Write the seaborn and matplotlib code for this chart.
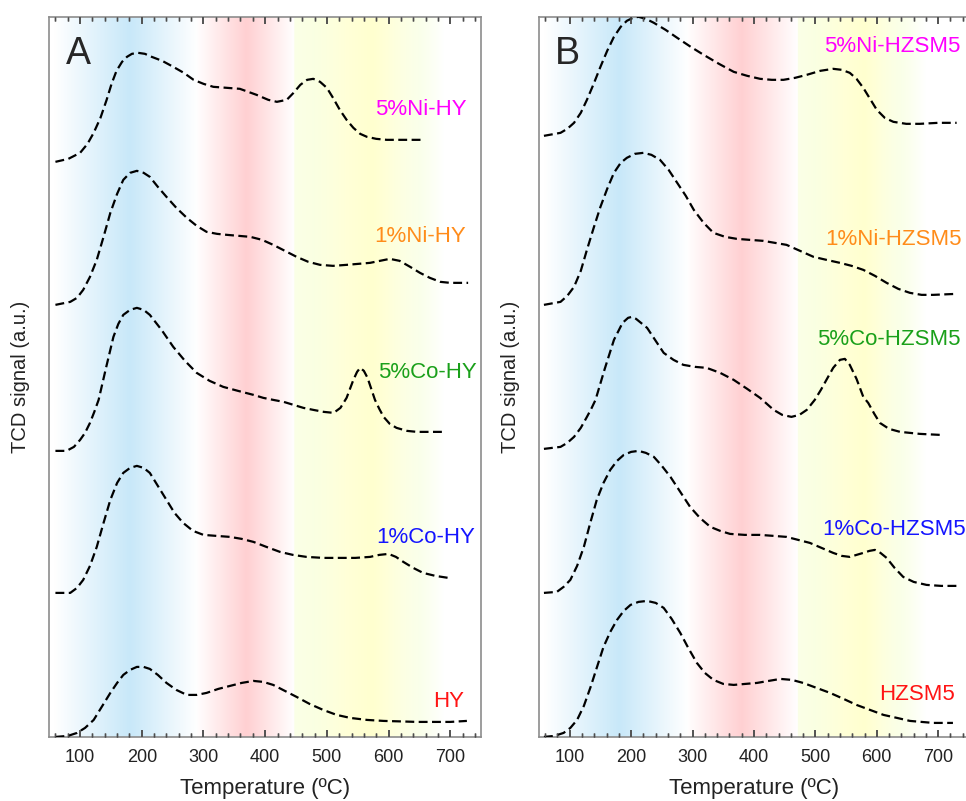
import numpy as np
import pandas as pd
import matplotlib
matplotlib.use("Agg")
import matplotlib.pyplot as plt
import seaborn as sns
from matplotlib.ticker import MultipleLocator, FixedLocator
from matplotlib.colors import to_rgb

# ---- panel A: HY series (temperature in C, TCD signal in a.u., already stacked)
a_ni5_t = [60, 81, 100, 112, 122, 133, 143, 151, 159, 168, 176, 184, 194, 205, 216, 233, 251, 268, 284, 300, 316, 338, 359, 386, 405, 419, 435, 446, 457, 468, 478, 489, 500, 510, 521, 532, 543, 554, 565, 580, 597, 625, 656]
a_ni5_v = [5.75, 5.78, 5.84, 5.93, 6.04, 6.19, 6.37, 6.53, 6.66, 6.75, 6.80, 6.83, 6.84, 6.83, 6.80, 6.76, 6.70, 6.64, 6.57, 6.53, 6.50, 6.49, 6.48, 6.42, 6.37, 6.35, 6.37, 6.44, 6.52, 6.57, 6.58, 6.55, 6.49, 6.39, 6.27, 6.17, 6.09, 6.03, 6.00, 5.98, 5.97, 5.97, 5.97]
a_ni1_t = [60, 84, 95, 105, 116, 127, 138, 149, 160, 170, 181, 192, 203, 213, 226, 240, 256, 273, 289, 305, 322, 338, 357, 376, 395, 413, 432, 451, 470, 489, 510, 532, 551, 570, 586, 602, 618, 635, 651, 667, 684, 700, 729]
a_ni1_v = [4.32, 4.35, 4.39, 4.47, 4.60, 4.77, 5.00, 5.24, 5.43, 5.57, 5.64, 5.66, 5.64, 5.60, 5.50, 5.40, 5.29, 5.19, 5.11, 5.05, 5.03, 5.02, 5.01, 5.00, 4.97, 4.92, 4.86, 4.80, 4.75, 4.72, 4.71, 4.72, 4.73, 4.74, 4.76, 4.78, 4.76, 4.70, 4.64, 4.59, 4.55, 4.54, 4.54]
a_co5_t = [60, 78, 90, 100, 108, 116, 123, 130, 142, 154, 162, 170, 181, 192, 203, 213, 232, 251, 270, 289, 310, 332, 356, 381, 397, 413, 430, 446, 462, 478, 495, 511, 522, 532, 543, 549, 554, 560, 566, 572, 578, 585, 592, 602, 613, 630, 646, 689]
a_co5_v = [2.86, 2.86, 2.90, 2.97, 3.04, 3.14, 3.25, 3.37, 3.69, 4.00, 4.13, 4.22, 4.27, 4.29, 4.27, 4.22, 4.07, 3.90, 3.76, 3.64, 3.56, 3.50, 3.46, 3.42, 3.39, 3.37, 3.35, 3.32, 3.29, 3.27, 3.25, 3.24, 3.29, 3.39, 3.57, 3.65, 3.69, 3.66, 3.59, 3.48, 3.37, 3.28, 3.20, 3.13, 3.09, 3.06, 3.05, 3.05]
a_co1_t = [60, 84, 95, 105, 116, 127, 138, 149, 160, 170, 181, 192, 203, 213, 226, 240, 253, 267, 283, 300, 321, 343, 362, 381, 402, 424, 445, 467, 494, 521, 546, 570, 585, 600, 612, 624, 640, 656, 676, 697]
a_co1_v = [1.44, 1.44, 1.49, 1.57, 1.71, 1.90, 2.14, 2.37, 2.54, 2.64, 2.69, 2.71, 2.69, 2.64, 2.51, 2.37, 2.24, 2.14, 2.06, 2.02, 2.01, 2.00, 1.98, 1.95, 1.90, 1.85, 1.82, 1.80, 1.79, 1.79, 1.79, 1.80, 1.82, 1.83, 1.80, 1.75, 1.69, 1.64, 1.61, 1.59]
a_hy_t = [60, 80, 95, 108, 122, 135, 149, 160, 170, 181, 192, 203, 213, 226, 240, 256, 273, 289, 305, 324, 343, 362, 381, 397, 413, 432, 451, 472, 494, 516, 538, 565, 592, 620, 646, 673, 700, 727]
a_hy_v = [0.00, 0.01, 0.04, 0.09, 0.17, 0.30, 0.44, 0.54, 0.62, 0.67, 0.70, 0.70, 0.68, 0.62, 0.54, 0.47, 0.42, 0.42, 0.44, 0.48, 0.51, 0.54, 0.56, 0.55, 0.52, 0.46, 0.40, 0.33, 0.27, 0.22, 0.19, 0.17, 0.16, 0.155, 0.15, 0.15, 0.15, 0.16]

# ---- panel B: HZSM5 series
b_ni5_t = [58, 85, 96, 107, 118, 128, 139, 150, 161, 172, 183, 193, 203, 212, 224, 237, 256, 275, 297, 318, 343, 367, 389, 410, 429, 448, 467, 486, 508, 529, 543, 556, 567, 578, 589, 600, 613, 627, 648, 670, 700, 730]
b_ni5_v = [6.01, 6.04, 6.08, 6.14, 6.24, 6.37, 6.53, 6.70, 6.86, 7.00, 7.10, 7.16, 7.19, 7.20, 7.18, 7.14, 7.07, 6.99, 6.90, 6.82, 6.73, 6.65, 6.61, 6.58, 6.57, 6.57, 6.59, 6.62, 6.66, 6.68, 6.67, 6.64, 6.58, 6.49, 6.38, 6.27, 6.19, 6.15, 6.13, 6.13, 6.14, 6.14]
b_ni1_t = [58, 85, 96, 107, 118, 128, 139, 150, 161, 172, 183, 193, 206, 220, 233, 247, 261, 275, 289, 302, 318, 334, 353, 372, 393, 415, 434, 453, 475, 497, 518, 540, 559, 578, 597, 616, 635, 654, 673, 692, 730]
b_ni1_v = [4.32, 4.35, 4.41, 4.50, 4.66, 4.87, 5.09, 5.30, 5.48, 5.64, 5.74, 5.79, 5.83, 5.84, 5.82, 5.77, 5.67, 5.54, 5.41, 5.27, 5.14, 5.04, 5.00, 4.98, 4.97, 4.96, 4.94, 4.92, 4.86, 4.80, 4.77, 4.74, 4.71, 4.67, 4.61, 4.54, 4.48, 4.44, 4.42, 4.42, 4.43]
b_co5_t = [58, 85, 96, 107, 118, 128, 135, 142, 157, 172, 186, 195, 201, 208, 216, 226, 240, 253, 269, 285, 304, 323, 345, 367, 389, 410, 421, 432, 446, 461, 474, 486, 499, 509, 518, 529, 540, 548, 556, 567, 578, 586, 596, 605, 620, 638, 670, 703]
b_co5_v = [2.88, 2.90, 2.94, 3.00, 3.09, 3.20, 3.28, 3.37, 3.68, 3.97, 4.14, 4.19, 4.20, 4.18, 4.14, 4.09, 3.96, 3.84, 3.77, 3.72, 3.70, 3.69, 3.64, 3.57, 3.48, 3.39, 3.33, 3.27, 3.22, 3.20, 3.22, 3.27, 3.37, 3.47, 3.57, 3.69, 3.77, 3.78, 3.72, 3.58, 3.40, 3.34, 3.23, 3.14, 3.08, 3.05, 3.03, 3.02]
b_co1_t = [58, 79, 90, 101, 112, 123, 133, 144, 155, 166, 177, 188, 200, 212, 224, 237, 250, 264, 280, 296, 312, 329, 345, 361, 385, 410, 432, 453, 472, 491, 510, 529, 543, 556, 567, 578, 588, 597, 606, 616, 629, 643, 660, 681, 705, 730]
b_co1_v = [1.44, 1.45, 1.50, 1.57, 1.71, 1.90, 2.13, 2.37, 2.54, 2.67, 2.76, 2.82, 2.85, 2.86, 2.84, 2.80, 2.71, 2.60, 2.45, 2.30, 2.19, 2.10, 2.06, 2.03, 2.02, 2.02, 2.01, 2.00, 1.97, 1.94, 1.89, 1.84, 1.81, 1.80, 1.82, 1.84, 1.86, 1.87, 1.84, 1.79, 1.69, 1.60, 1.55, 1.52, 1.51, 1.51]
b_hz_t = [58, 75, 90, 101, 112, 123, 134, 145, 155, 166, 177, 188, 199, 212, 226, 240, 253, 266, 280, 293, 307, 320, 334, 350, 367, 386, 405, 424, 443, 462, 480, 502, 524, 546, 567, 589, 611, 633, 654, 673, 692, 724]
b_hz_v = [0.00, 0.01, 0.04, 0.09, 0.17, 0.31, 0.50, 0.71, 0.90, 1.05, 1.17, 1.26, 1.32, 1.35, 1.36, 1.34, 1.29, 1.18, 1.04, 0.89, 0.74, 0.64, 0.57, 0.53, 0.52, 0.53, 0.54, 0.56, 0.58, 0.57, 0.54, 0.49, 0.44, 0.38, 0.32, 0.27, 0.22, 0.19, 0.16, 0.15, 0.14, 0.14]

a_names = ["5%Ni-HY", "1%Ni-HY", "5%Co-HY", "1%Co-HY", "HY"]
b_names = ["5%Ni-HZSM5", "1%Ni-HZSM5", "5%Co-HZSM5", "1%Co-HZSM5", "HZSM5"]
label_colors = ["#FF00FF", "#FF8C1A", "#1AA01A", "#1414FF", "#FF1414"]
major_ticks = [100, 200, 300, 400, 500, 600, 700]

# background bands: (knot temperatures, knot weights, colour)
a_bands = [
    ([58, 181, 290], [0, 1, 0], "#C8E8F9"),
    ([288, 370, 448], [0, 1, 0], "#FFD0D2"),
    ([447, 448, 575, 690], [0, 0.45, 1, 0], "#FFFFCF"),
    ([447, 448, 480, 530], [0, 0.25, 0.3, 0], "#EEFFE0"),
    ([600, 650, 690], [0, 0.3, 0], "#EEFFE0"),
]
b_bands = [
    ([58, 181, 292], [0, 1, 0], "#C8E8F9"),
    ([290, 380, 472], [0, 1, 0], "#FFD0D2"),
    ([471, 472, 580, 680], [0, 0.45, 1, 0], "#FFFFCF"),
    ([471, 472, 500, 545], [0, 0.25, 0.3, 0], "#EEFFE0"),
    ([600, 640, 680], [0, 0.3, 0], "#EEFFE0"),
]

XMIN, XMAX, YMAX = 50, 750, 7.2

sns.set_theme(style="ticks")
plt.rcParams["font.family"] = ["Liberation Sans", "DejaVu Sans"]
plt.rcParams.update({
    "xtick.bottom": True, "xtick.top": True, "xtick.direction": "in",
    "xtick.major.size": 5, "xtick.minor.size": 3,
    "xtick.major.width": 1.1, "xtick.minor.width": 1.0,
    "xtick.color": "#4D4D4D", "xtick.labelcolor": "#222222",
    "xtick.labelsize": 13, "xtick.major.pad": 9,
    "ytick.left": False, "ytick.right": False,
    "axes.axisbelow": False,
})


def draw_background(ax, bands):
    grid = np.arange(XMIN, XMAX + 1)
    img = np.ones((1, len(grid), 3))
    for knots, weights, color in bands:
        w = np.interp(grid, knots, weights, left=0, right=0)[None, :, None]
        img = img * (1 - w) + np.array(to_rgb(color))[None, None, :] * w
    ax.imshow(img, extent=[XMIN, XMAX, 0, YMAX], aspect="auto", zorder=0,
              interpolation="bilinear")


def add_tick_overlay(fig, ax):
    # transparent axes on top of the panel that only carries the inward ticks
    ov = fig.add_axes(ax.get_position(), sharex=ax)
    ov.set_zorder(ax.get_zorder() + 1)
    ov.patch.set_visible(False)
    ov.set_yticks([])
    for sp in ov.spines.values():
        sp.set_visible(False)
    ov.xaxis.set_major_locator(FixedLocator(major_ticks))
    ov.xaxis.set_minor_locator(MultipleLocator(20))
    ov.tick_params(axis="x", which="both", direction="in", top=True,
                   bottom=True, labelbottom=False, labeltop=False,
                   color="#4D4D4D")
    ov.tick_params(axis="x", which="major", length=5, width=1.1)
    ov.tick_params(axis="x", which="minor", length=3, width=1.0)
    return ov


def draw_panel(ax, curves, names, bands, letter, label_pos):
    draw_background(ax, bands)
    for (t, v), name in zip(curves, names):
        df = pd.DataFrame({"T": t, "signal": v})
        sns.lineplot(data=df, x="T", y="signal", ax=ax, color="black",
                     linestyle=(0, (4, 2)), linewidth=1.6, sort=False, zorder=3)
    for name, color, (lx, ly) in zip(names, label_colors, label_pos):
        ax.text(lx, ly, name, color=color, fontsize=16, ha="right",
                va="center", zorder=4)
    ax.text(0.038, 0.974, letter, transform=ax.transAxes, fontsize=27,
            ha="left", va="top", zorder=4)
    ax.set_xlim(XMIN, XMAX)
    ax.set_ylim(0, YMAX)
    ax.set_yticks([])
    ax.xaxis.set_major_locator(FixedLocator(major_ticks))
    ax.xaxis.set_minor_locator(MultipleLocator(20))
    for sp in ax.spines.values():
        sp.set_visible(True)
        sp.set_color("#8C8C8C")
        sp.set_linewidth(1.2)
    ax.set_xlabel("Temperature (ºC)", fontsize=16, color="#222222", labelpad=8)
    ax.set_ylabel("TCD signal (a.u.)", fontsize=14.5, color="#222222", labelpad=14)
    ax.tick_params(axis="x", which="both", direction="in", top=True,
                   bottom=True, color="#4D4D4D")
    ax.tick_params(axis="x", which="major", length=5, width=1.1)
    ax.tick_params(axis="x", which="minor", length=3, width=1.0)


fig = plt.figure(figsize=(9.66, 8.01), dpi=100)
ax_a = fig.add_axes([0.051, 0.080, 0.447, 0.899])
ax_b = fig.add_axes([0.558, 0.080, 0.445, 0.899])

draw_panel(ax_a,
           [(a_ni5_t, a_ni5_v), (a_ni1_t, a_ni1_v), (a_co5_t, a_co5_v),
            (a_co1_t, a_co1_v), (a_hy_t, a_hy_v)],
           a_names, a_bands, "A",
           [(726, 6.27), (726, 5.00), (743, 3.64), (740, 1.99), (722, 0.35)])
draw_panel(ax_b,
           [(b_ni5_t, b_ni5_v), (b_ni1_t, b_ni1_v), (b_co5_t, b_co5_v),
            (b_co1_t, b_co1_v), (b_hz_t, b_hz_v)],
           b_names, b_bands, "B",
           [(737, 6.90), (738, 4.97), (737, 3.97), (745, 2.07), (727, 0.42)])

add_tick_overlay(fig, ax_a)
add_tick_overlay(fig, ax_b)

fig.savefig("out.png", dpi=100)
plt.close(fig)
